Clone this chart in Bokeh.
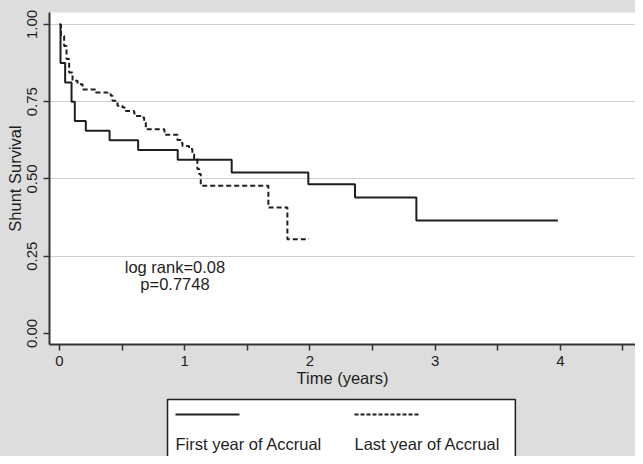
from bokeh.plotting import figure
from bokeh.models import Range1d, FixedTicker, NumeralTickFormatter
from bokeh.layouts import column
from bokeh.core.properties import value
from bokeh.embed import file_html
from bokeh.resources import INLINE

# ---- data ----
first_t = [0.0, 0.008, 0.045, 0.096, 0.122, 0.21, 0.40, 0.628, 0.944, 1.375, 1.987, 2.36, 2.85, 3.98]
first_s = [1.0, 0.875, 0.8125, 0.75, 0.6875, 0.656, 0.625, 0.594, 0.5625, 0.521, 0.483, 0.44, 0.366, 0.366]

last_t = [0.0, 0.012, 0.037, 0.056, 0.077, 0.104, 0.144, 0.184, 0.29, 0.383, 0.41, 0.423, 0.463,
          0.503, 0.529, 0.596, 0.609, 0.649, 0.676, 0.689, 0.838, 0.942, 0.968, 0.982, 1.035,
          1.061, 1.075, 1.101, 1.115, 1.128, 1.668, 1.82, 1.993]
last_s = [1.0, 0.963, 0.93, 0.888, 0.845, 0.818, 0.807, 0.79, 0.78, 0.774, 0.769, 0.753, 0.737,
          0.731, 0.72, 0.712, 0.704, 0.699, 0.688, 0.661, 0.643, 0.626, 0.617, 0.607, 0.597,
          0.58, 0.564, 0.532, 0.516, 0.478, 0.408, 0.305, 0.305]

series_names = ["First year of Accrual", "Last year of Accrual"]
x_ticks = [0, 1, 2, 3, 4]
x_minor = [0.5, 1.5, 2.5, 3.5, 4.5]
y_ticks = [0.0, 0.25, 0.5, 0.75, 1.0]
y_labels = ["0.00", "0.25", "0.50", "0.75", "1.00"]
grid_y = [0.25, 0.5, 0.75, 1.0]
note_lines = ["log rank=0.08", "p=0.7748"]
note_x = [0.922, 0.922]
note_y = [0.214, 0.159]

FONT = "Liberation Sans"
BG = "#dddddd"
INK = "#1e1e1e"
AX = "#333333"

p = figure(width=635, height=392, output_backend="svg", toolbar_location=None,
           x_range=Range1d(-0.08, 4.6), y_range=Range1d(-0.0356, 1.0388),
           min_border_left=49, min_border_right=0, min_border_top=12, min_border_bottom=48)
p.background_fill_color = "white"
p.border_fill_color = BG
p.outline_line_color = None

p.step(first_t, first_s, mode="after", line_color=INK, line_width=2)
p.step(last_t, last_s, mode="after", line_color=INK, line_width=2, line_dash="5 3")
p.text(x=note_x, y=note_y, text=note_lines, text_font=value(FONT), text_font_size="16.5px",
       text_align="center", text_baseline="middle", text_color=INK)

# x axis
xa = p.xaxis[0]
xa.ticker = FixedTicker(ticks=x_ticks, minor_ticks=x_minor)
xa.axis_label = "Time (years)"
xa.axis_label_standoff = 0
xa.major_label_standoff = 5
# y axis
ya = p.yaxis[0]
ya.ticker = FixedTicker(ticks=y_ticks)
ya.formatter = NumeralTickFormatter(format="0.00")
ya.major_label_overrides = dict(zip(y_ticks, y_labels))
ya.major_label_orientation = "vertical"
ya.axis_label = "Shunt Survival"
ya.axis_label_standoff = 1
ya.major_label_standoff = 6

for ax in (xa, ya):
    ax.axis_line_color = AX
    ax.axis_line_width = 2
    ax.major_tick_line_color = AX
    ax.major_tick_line_width = 1.5
    ax.major_tick_in = 0
    ax.major_tick_out = 6
    ax.minor_tick_in = 0
    ax.minor_tick_out = 6
    ax.minor_tick_line_width = 1.5
    ax.major_label_text_font = FONT
    ax.major_label_text_font_size = "15px"
    ax.major_label_text_color = INK
    ax.axis_label_text_font = FONT
    ax.axis_label_text_font_size = "16.5px"
    ax.axis_label_text_font_style = "normal"
    ax.axis_label_text_color = INK
xa.minor_tick_line_color = AX
ya.minor_tick_line_color = None

p.xgrid.visible = False
p.ygrid.ticker = FixedTicker(ticks=grid_y)
p.ygrid.grid_line_color = "#cfcfcf"
p.ygrid.grid_line_width = 1

# legend panel below the chart (same side borders so frames stay aligned)
p2 = figure(width=635, height=64, output_backend="svg", toolbar_location=None,
            x_range=Range1d(0, 1), y_range=Range1d(0, 1), x_axis_type=None, y_axis_type=None,
            min_border_left=49, min_border_right=0, min_border_top=0, min_border_bottom=0)
p2.background_fill_color = None
p2.border_fill_color = None
p2.outline_line_color = None
p2.grid.visible = False

box_l, box_r, box_t, box_b = 0.2014, 0.795, 0.89, -0.2
p2.quad(left=[box_l], right=[box_r], top=[box_t], bottom=[box_b], fill_color="white",
        line_color=INK, line_width=1.5)

key_x0 = [0.215, 0.5205]
key_len = 0.1092
key_y = 0.656
label_y = 0.19
dashes = ["solid", "4 2"]
for i in range(2):
    p2.line([key_x0[i], key_x0[i] + key_len], [key_y, key_y], line_color=INK, line_width=2,
            line_dash=dashes[i])
p2.text(x=key_x0, y=[label_y, label_y], text=series_names, text_font=value(FONT),
        text_font_size="16.5px", text_align="left", text_baseline="middle", text_color=INK)

layout = column(p, p2, spacing=0)
layout.styles = {"background-color": BG}
open("out.html", "w").write(file_html(layout, INLINE))
